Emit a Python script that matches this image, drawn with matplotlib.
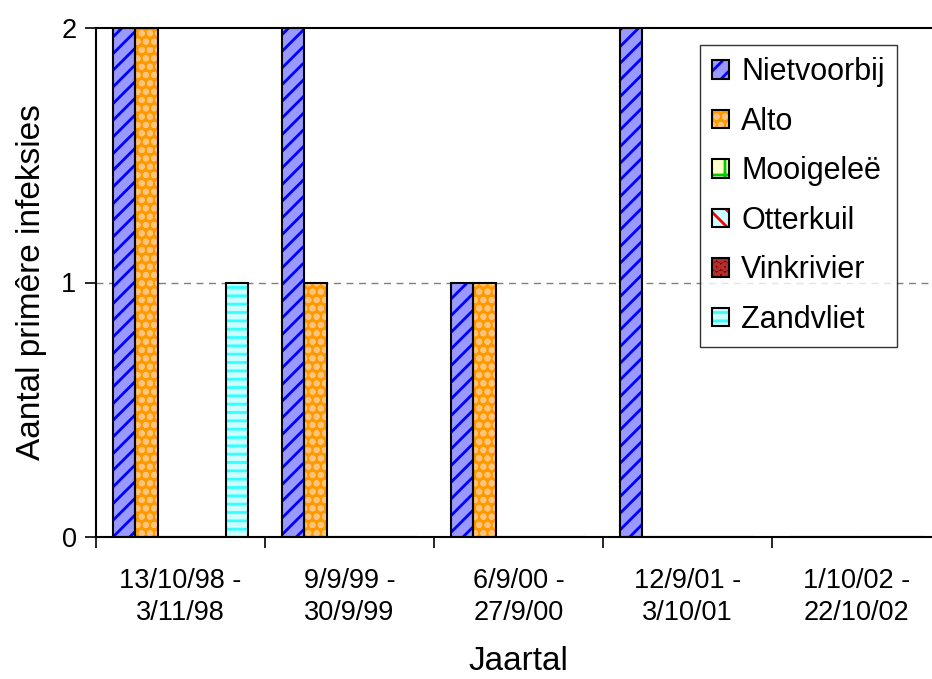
import numpy as np
import matplotlib
matplotlib.use('Agg')
import matplotlib.pyplot as plt
from matplotlib.patches import Patch

plt.rcParams['font.family'] = ['Liberation Sans', 'DejaVu Sans']
plt.rcParams['hatch.linewidth'] = 2.0

# Data
periods = ['13/10/98 -\n3/11/98', '9/9/99 -\n30/9/99', '6/9/00 -\n27/9/00',
           '12/9/01 -\n3/10/01', '1/10/02 -\n22/10/02']
series = ['Nietvoorbij', 'Alto', 'Mooigeleë', 'Otterkuil', 'Vinkrivier', 'Zandvliet']
nietvoorbij = [2, 2, 1, 2, 0]
alto = [2, 1, 1, 0, 0]
mooigelee = [0, 0, 0, 0, 0]
otterkuil = [0, 0, 0, 0, 0]
vinkrivier = [0, 0, 0, 0, 0]
zandvliet = [1, 0, 0, 0, 0]
values = [nietvoorbij, alto, mooigelee, otterkuil, vinkrivier, zandvliet]

# (face colour, hatch colour, hatch pattern) per series
styles = [
    ('#9999FF', '#0000FF', '//'),
    ('#FF9900', '#FFC47A', 'oo'),
    ('#FFFFCC', '#00CC00', '+'),
    ('#CCFFFF', '#FF0000', '\\\\'),
    ('#800000', '#B03030', 'OO'),
    ('#CCFFFF', '#33FFFF', '--'),
]

fig = plt.figure(figsize=(9.32, 6.79), dpi=100)
ax = fig.add_axes([96 / 932, 142 / 679, 845 / 932, 509 / 679])

x = np.arange(len(periods))
w = 0.8 / len(series)
for i, (name, vals) in enumerate(zip(series, values)):
    face, hcol, hatch = styles[i]
    pos = x - 0.4 + (i + 0.5) * w
    ax.bar(pos, vals, w, color=face, edgecolor=hcol, hatch=hatch, linewidth=0, zorder=2)
    ax.bar(pos, vals, w, fill=False, edgecolor='black', linewidth=1.5, zorder=3)

ax.set_xlim(-0.5, len(periods) - 0.5)
ax.set_ylim(0, 2)
ax.set_yticks([0, 1, 2])
ax.axhline(1, color='#808080', linestyle=(0, (5, 4)), linewidth=1, zorder=1)

ax.set_xticks(np.arange(len(periods) + 1) - 0.5)
ax.set_xticklabels([])
ax.set_xticks(x, minor=True)
ax.set_xticklabels(periods, minor=True, fontsize=19.5, linespacing=1.3)
ax.tick_params(axis='x', which='minor', length=0, pad=22)
ax.tick_params(axis='x', which='major', length=8, width=1.2, direction='out')
ax.tick_params(axis='y', length=8, width=1.2, direction='out', labelsize=19.5, pad=6)

for s in ax.spines.values():
    s.set_linewidth(1.5)
    s.set_color('black')

ax.set_xlabel('Jaartal', fontsize=24, labelpad=15)
ax.set_ylabel('Aantal primêre infeksies', fontsize=24, labelpad=10)

handles = []
for face, hcol, hatch in styles:
    p1 = Patch(facecolor=face, edgecolor=hcol, hatch=hatch, linewidth=0)
    p2 = Patch(fill=False, edgecolor='black', linewidth=1.5)
    handles.append((p1, p2))
leg = fig.legend(handles, series, loc='upper left', bbox_to_anchor=(700 / 932, 1 - 45 / 679),
                 fontsize=22, frameon=True, fancybox=False, handlelength=0.55, handleheight=0.55,
                 handletextpad=0.4, labelspacing=0.64, borderpad=0.4, borderaxespad=0)
leg.get_frame().set_edgecolor('black')
leg.get_frame().set_linewidth(1.0)

fig.savefig('out.png', dpi=100)
